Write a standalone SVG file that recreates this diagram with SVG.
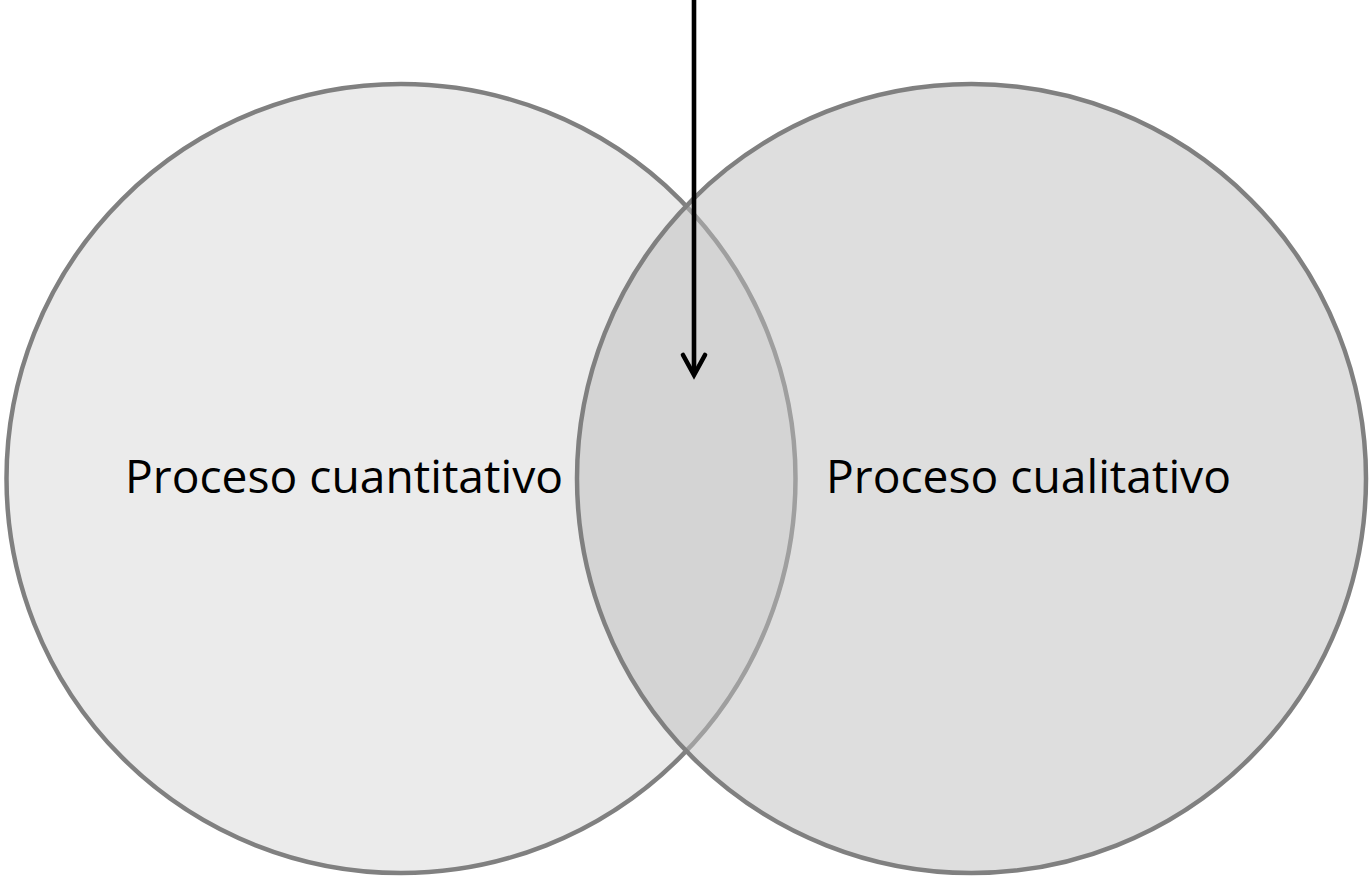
<svg xmlns="http://www.w3.org/2000/svg" width="1371" height="879" viewBox="0 0 1371 879">
<style>
.circ{stroke:#808080;stroke-width:4.5}
.lbl{font-family:"Open Sans","Liberation Sans",sans-serif;font-size:45px;fill:#000}
.conn{fill:none;stroke:#000;stroke-width:4.6}
</style>
<rect width="1371" height="879" fill="#fff"/>
<g id="quant">
<circle class="circ" cx="401" cy="478.5" r="394.5" fill="#ebebeb"/>
<text class="lbl" x="344" y="493" text-anchor="middle" textLength="438" lengthAdjust="spacingAndGlyphs">Proceso cuantitativo</text>
</g>
<g id="qual">
<circle cx="971.5" cy="478.5" r="394.5" fill="#bdbdbd" fill-opacity="0.5"/>
<circle cx="971.5" cy="478.5" r="394.5" fill="none" stroke="#808080" stroke-width="4.5"/>
<text class="lbl" x="1028.5" y="493" text-anchor="middle" textLength="405" lengthAdjust="spacingAndGlyphs">Proceso cualitativo</text>
</g>
<g id="connectors">
<line class="conn" x1="694" y1="0" x2="694" y2="372"/>
<path class="conn" d="M683,355 L694,375 L705,355" stroke-width="5" stroke-linecap="round" stroke-linejoin="miter"/>
</g>
</svg>
